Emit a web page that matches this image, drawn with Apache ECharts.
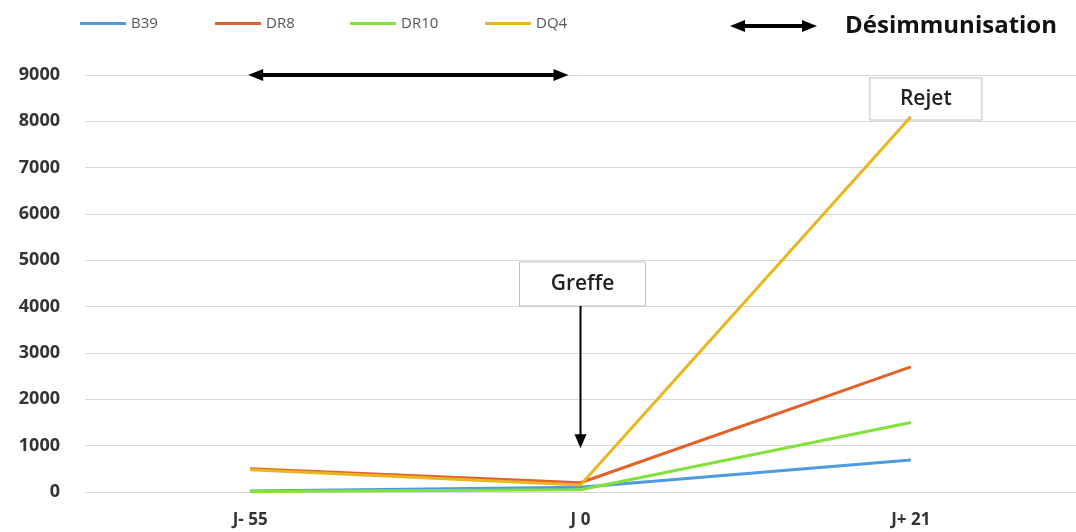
<!DOCTYPE html>
<html><head><meta charset="utf-8">
<script src="https://cdn.jsdelivr.net/npm/echarts@6/dist/echarts.min.js"></script>
<style>html,body{margin:0;padding:0;background:#fff}#c{width:1076px;height:532px}</style>
</head><body><div id="c"></div>
<script>
const categories = ['J- 55', 'J 0', 'J+ 21'];
const seriesNames = ['B39', 'DR8', 'DR10', 'DQ4'];
const b39 = [20, 100, 690];
const dr8 = [500, 200, 2700];
const dr10 = [10, 50, 1500];
const dq4 = [480, 150, 8100];
const yTicks = [0, 1000, 2000, 3000, 4000, 5000, 6000, 7000, 8000, 9000];
const colors = ['#4f9be0', '#e2622c', '#80e23a', '#e8b61e'];
const values = [b39, dr8, dr10, dq4];

const chart = echarts.init(document.getElementById('c'));
const font = 'Open Sans';
chart.setOption({
  animation: false,
  color: colors,
  grid: {left: 85, right: 0, top: 75, bottom: 40},
  legend: seriesNames.map((n, i) => ({
    left: 75 + i * 135, top: 11, itemWidth: 46, itemHeight: 3, itemGap: 4,
    icon: 'rect',
    textStyle: {fontFamily: font, fontSize: 15, color: '#555'},
    data: [n]
  })),
  xAxis: {
    type: 'category', data: categories, boundaryGap: true,
    axisLine: {show: false}, axisTick: {show: false},
    axisLabel: {fontFamily: font, fontWeight: 'bold', fontSize: 17, color: '#333', margin: 20}
  },
  yAxis: {
    type: 'value', min: yTicks[0], max: yTicks[yTicks.length - 1], interval: 1000,
    axisLine: {show: false}, axisTick: {show: false},
    axisLabel: {fontFamily: font, fontWeight: 'bold', fontSize: 18, color: '#333', margin: 25,
      formatter: v => String(v)},
    splitLine: {lineStyle: {color: '#d9d9d9', width: 1}}
  },
  series: seriesNames.map((n, i) => ({
    name: n, type: 'line', data: values[i], symbol: 'none',
    lineStyle: {width: 3, color: colors[i]}, z: 2 + i
  }))
});

function place() {
  const p0 = chart.convertToPixel({xAxisIndex: 0, yAxisIndex: 0}, [0, 9000]);
  const p1 = chart.convertToPixel({xAxisIndex: 0, yAxisIndex: 0}, [1, 9000]);
  const pj0 = chart.convertToPixel({xAxisIndex: 0, yAxisIndex: 0}, [1, 4000]);
  const pjlow = chart.convertToPixel({xAxisIndex: 0, yAxisIndex: 0}, [1, 900]);
  const pRej = chart.convertToPixel({xAxisIndex: 0, yAxisIndex: 0}, [2, 8500]);
  const arrowHead = (x, y, dir) => ({ // dir: -1 left, 1 right, 2 down
    type: 'polygon', z: 20,
    shape: {points: dir === 2 ? [[x - 6, y - 14], [x + 6, y - 14], [x, y]] :
      [[x, y], [x - dir * 15, y - 6], [x - dir * 15, y + 6]]},
    style: {fill: '#000'}
  });
  const dbl = (x1, x2, y, w) => [
    {type: 'line', z: 20, shape: {x1: x1 + 10, y1: y, x2: x2 - 10, y2: y}, style: {stroke: '#000', lineWidth: w}},
    arrowHead(x1, y, -1), arrowHead(x2, y, 1)
  ];
  const box = (cx, y, w, h, text) => ({
    type: 'group', z: 30, children: [
      {type: 'rect', shape: {x: cx - w / 2, y: y, width: w, height: h},
        style: {fill: '#fff', stroke: '#bfbfbf', lineWidth: 1}},
      {type: 'text', style: {x: cx, y: y + h / 2, text: text, align: 'center', verticalAlign: 'middle',
        font: '600 21px "Open Sans"', fill: '#222'}}
    ]
  });
  chart.setOption({graphic: {elements: [
    ...dbl(p0[0] - 2, p1[0] - 12, p0[1], 4),
    ...dbl(730, 817, 26, 4),
    {type: 'text', z: 20, style: {x: 845, y: 26, text: 'Désimmunisation', verticalAlign: 'middle',
      font: 'bold 24px "Open Sans"', fill: '#111'}},
    box(pj0[0] + 2, 262, 126, 44, 'Greffe'),
    {type: 'line', z: 20, shape: {x1: pj0[0], y1: 306, x2: pj0[0], y2: pjlow[1] - 10}, style: {stroke: '#000', lineWidth: 2}},
    arrowHead(pj0[0], pjlow[1] - 2, 2),
    box(pRej[0] + 15, 78, 112, 42, 'Rejet')
  ]}});
}
place();
</script></body></html>
